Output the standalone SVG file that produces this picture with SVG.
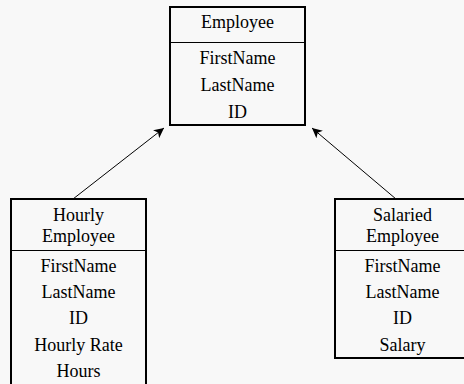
<svg xmlns="http://www.w3.org/2000/svg" width="464" height="384" viewBox="0 0 464 384">
<style>
.box{fill:none;stroke:#000;stroke-width:2}
.div{stroke:#000;stroke-width:1}
.t{font-family:'Liberation Serif','DejaVu Serif','Times New Roman',Times,serif;font-size:18px;fill:#000;text-anchor:middle}
.conn{stroke:#000;stroke-width:1;fill:none}
</style>
<defs>
<marker id="arr" viewBox="0 0 10 10" refX="10" refY="5" markerWidth="10" markerHeight="10" markerUnits="userSpaceOnUse" orient="auto">
<path d="M0,0 L10,5 L0,10 L2.5,5 z" fill="#000"/>
</marker>
</defs>
<rect width="464" height="384" fill="#f8f8f8"/>
<g id="connectors">
<line class="conn" x1="73" y1="199" x2="164" y2="128" marker-end="url(#arr)"/>
<line class="conn" x1="396" y1="199" x2="312" y2="128" marker-end="url(#arr)"/>
</g>
<g id="employee">
<rect class="box" x="170" y="7" width="135" height="118"/>
<line class="div" x1="170" y1="42.5" x2="305" y2="42.5"/>
<text class="t" x="237.5" y="28">Employee</text>
<text class="t" x="237.5" y="64">FirstName</text>
<text class="t" x="237.5" y="91">LastName</text>
<text class="t" x="237.5" y="118">ID</text>
</g>
<g id="hourly">
<rect class="box" x="11" y="199" width="135" height="200"/>
<line class="div" x1="11" y1="250.5" x2="146" y2="250.5"/>
<text class="t" x="78.5" y="221">Hourly</text>
<text class="t" x="78.5" y="242">Employee</text>
<text class="t" x="78.5" y="272">FirstName</text>
<text class="t" x="78.5" y="298">LastName</text>
<text class="t" x="78.5" y="324">ID</text>
<text class="t" x="78.5" y="351">Hourly Rate</text>
<text class="t" x="78.5" y="377">Hours</text>
</g>
<g id="salaried">
<rect class="box" x="335" y="199" width="135" height="159"/>
<line class="div" x1="335" y1="250.5" x2="470" y2="250.5"/>
<text class="t" x="402.5" y="221">Salaried</text>
<text class="t" x="402.5" y="242">Employee</text>
<text class="t" x="402.5" y="272">FirstName</text>
<text class="t" x="402.5" y="298">LastName</text>
<text class="t" x="402.5" y="324">ID</text>
<text class="t" x="402.5" y="351">Salary</text>
</g>
</svg>
